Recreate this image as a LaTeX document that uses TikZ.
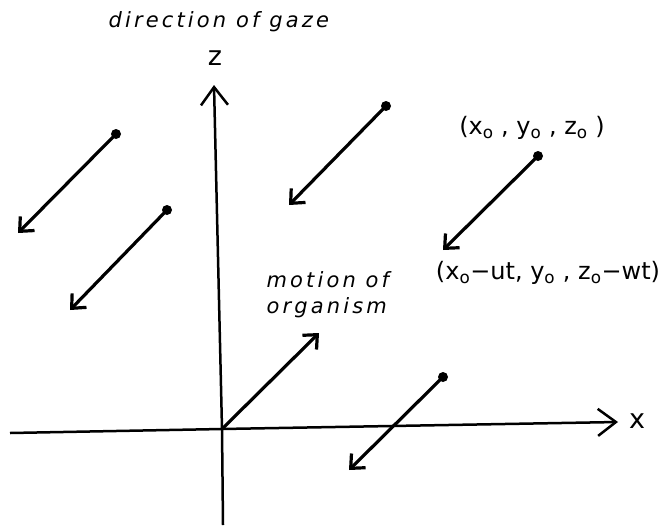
\documentclass[tikz,border=0pt]{standalone}
\usepackage{fontspec}
\setmainfont{DejaVu Sans}
\usetikzlibrary{arrows.meta}

\begin{document}
\begin{tikzpicture}[x=1pt, y=-1pt, line width=3.2pt,
		>={Straight Barb[length=11pt,width=20pt]},
		lbl/.style={font=\fontsize{21}{26}\selectfont\itshape\addfontfeature{LetterSpace=15}, align=left, inner sep=0pt},
		crd/.style={font=\fontsize{24}{26}\selectfont, inner sep=0pt},
		axlbl/.style={font=\fontsize{27}{27}\selectfont, inner sep=0pt},
		axis/.style={line width=2.5pt},
		dot/.style={circle, fill, inner sep=0pt, minimum size=10pt}]
		\useasboundingbox (0,0) rectangle (669,527);
		% axes
		\coordinate (O) at (222,429);
		\coordinate (xs) at (10,433);
		\coordinate (xe) at (618,422);
		\coordinate (zs) at (223,525);
		\coordinate (ze) at (214,85);
		\draw[axis] (xs) -- (O);
		\draw[axis, ->, >={Straight Barb[length=18pt,width=27pt]}] (O) -- (xe);
		\draw[axis] (zs) -- (O);
		\draw[axis, ->, >={Straight Barb[length=18pt,width=27pt]}] (O) -- (ze);
		\node[axlbl] (xlab) at (637,421) {x};
		\node[axlbl] (zlab) at (215,58) {z};
		\node[lbl, anchor=base west] (gaze) at (107,28) {direction of gaze};
		% motion of the organism
		\coordinate (mot) at (319,333);
		\draw[->] (O) -- (mot);
		\node[lbl, anchor=north west] (motlab) at (265,270) {motion of\\organism};
		% apparent motion of points in the field
		\foreach \n/\px/\py/\qx/\qy in {1/116/134/18/233, 2/167/210/70/310,
				3/386/106/289/205, 4/538/156/443/250, 5/443/377/349/470} {
			\node[dot] (g\n) at (\px,\py) {};
			\coordinate (h\n) at (\qx,\qy);
			\draw[->] (g\n.center) -- (h\n);
		}
		\node[crd] (start) at (532,128) {(x\textsubscript{o} , y\textsubscript{o} , z\textsubscript{o} )};
		\node[crd] (end) at (548,273) {(x\textsubscript{o}−ut, y\textsubscript{o} , z\textsubscript{o}−wt)};
	\end{tikzpicture}
\end{document}
